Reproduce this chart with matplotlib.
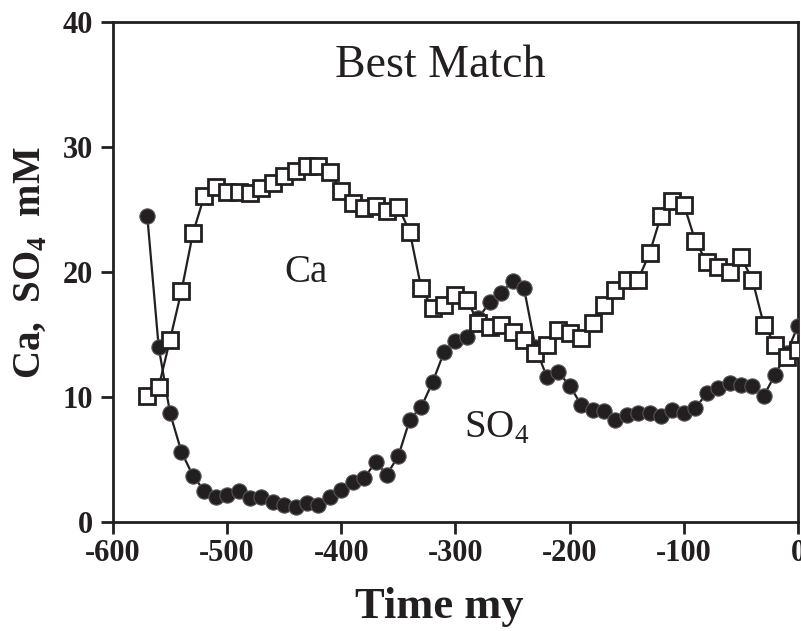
import matplotlib
matplotlib.use("Agg")
import matplotlib.pyplot as plt

plt.rcParams['font.family'] = ['Liberation Serif', 'DejaVu Serif']
plt.rcParams['mathtext.fontset'] = 'custom'
plt.rcParams['mathtext.rm'] = 'Liberation Serif'
plt.rcParams['mathtext.bf'] = 'Liberation Serif:bold'
plt.rcParams['axes.unicode_minus'] = False

# time axis (my), every 10 my from -570 to 0
time_my = list(range(-570, 1, 10))

ca = [10.1, 10.8, 14.6, 18.5, 23.1, 26.1, 26.8, 26.4, 26.4, 26.3,
      26.7, 27.1, 27.7, 28.1, 28.5, 28.5, 28.0, 26.5, 25.5, 25.1,
      25.3, 24.9, 25.2, 23.2, 18.7, 17.1, 17.4, 18.2, 17.8, 15.9,
      15.6, 15.8, 15.2, 14.6, 13.5, 14.2, 15.4, 15.1, 14.7, 15.9,
      17.4, 18.6, 19.4, 19.4, 21.5, 24.5, 25.7, 25.4, 22.5, 20.8,
      20.4, 20.0, 21.2, 19.4, 15.8, 14.2, 13.2, 13.8]

so4 = [24.5, 14.0, 8.7, 5.6, 3.7, 2.5, 2.0, 2.2, 2.5, 1.9,
       2.0, 1.6, 1.4, 1.2, 1.5, 1.4, 2.0, 2.6, 3.2, 3.5,
       4.8, 3.8, 5.3, 8.2, 9.2, 11.2, 13.6, 14.5, 14.8, 16.3,
       17.6, 18.3, 19.3, 18.7, 14.0, 11.6, 12.0, 10.9, 9.4, 9.0,
       8.9, 8.2, 8.6, 8.7, 8.7, 8.5, 9.0, 8.7, 9.1, 10.3,
       10.7, 11.1, 11.0, 10.9, 10.1, 11.8, 13.5, 15.7]

ink = '#231f20'

fig = plt.figure(figsize=(8.01, 6.31), dpi=100)
ax = fig.add_axes([113 / 801, 109 / 631, 685 / 801, 500 / 631])

ax.plot(time_my, so4, color=ink, lw=1.6, marker='o', ms=11,
        mfc=ink, mec='#555555', mew=0.8, zorder=3)
ax.plot(time_my, ca, color=ink, lw=1.6, marker='s', ms=11,
        mfc='white', mec=ink, mew=2.0, zorder=4)

ax.set_xlim(-600, 0)
ax.set_ylim(0, 40)
ax.set_xticks(range(-600, 1, 100))
ax.set_yticks(range(0, 41, 10))

for s in ax.spines.values():
    s.set_linewidth(2.0)
    s.set_color(ink)
ax.tick_params(direction='out', length=8.5, width=2.0, color=ink,
               labelsize=22, labelcolor=ink, top=False, right=False)
ax.tick_params(axis='x', pad=4)
ax.tick_params(axis='y', pad=6)
for lab in ax.get_xticklabels() + ax.get_yticklabels():
    lab.set_fontweight('bold')

ax.set_xlabel('Time my', fontsize=32, fontweight='bold', color=ink)
ax.xaxis.set_label_coords(0.477, -0.13)
ax.set_ylabel(r'Ca,  SO$_\mathbf{4}$  mM', fontsize=28, fontweight='bold',
              color=ink)
ax.yaxis.set_label_coords(-0.094, 0.518)

ax.text(-313, 36.5, 'Best Match', fontsize=33, color=ink, ha='center', va='center')
ax.text(-431, 20.0, 'Ca', fontsize=28, color=ink, ha='center', va='center')
ax.text(-264, 7.5, r'SO$_4$', fontsize=28, color=ink, ha='center', va='center')

fig.savefig('out.png', dpi=100)
